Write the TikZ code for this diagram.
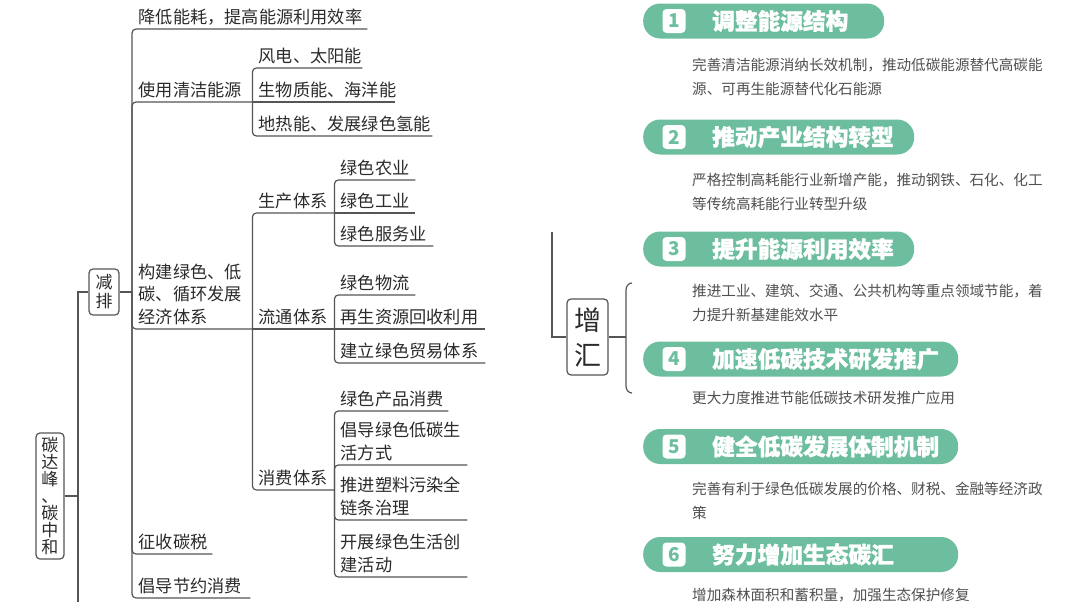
\documentclass[tikz,border=0pt]{standalone}
\usepackage{fontspec}
\setmainfont{Noto Sans CJK SC}
\newfontfamily\heavyfont{Noto Sans CJK SC}[BoldFeatures={FakeBold=1.2}]
\definecolor{ln}{HTML}{555555}
\definecolor{tx}{HTML}{2B2B2B}
\definecolor{pillc}{HTML}{6DBE9E}
\definecolor{descc}{HTML}{505050}
\begin{document}
\begin{tikzpicture}[x=1pt,y=-1pt,
  br/.style={draw=ln, line width=1.2pt, rounded corners=4pt},
  item/.style={anchor=south west, inner xsep=6.5pt, inner ysep=5.5pt, text depth=0pt,
    text width=#1, align=left, text=tx, font=\fontsize{17.2}{22.5}\selectfont},
  two/.style={text depth=22.5pt},
  three/.style={text depth=45pt},
  vbox/.style={draw=ln, line width=1.2pt, rounded corners=4pt, inner sep=0pt, align=center, text=tx},
  pill/.style={fill=pillc, rounded corners=17pt, minimum height=35pt, inner sep=0pt, anchor=west},
  badge/.style={fill=white, rounded corners=4pt, minimum width=23pt, minimum height=24pt, inner sep=0pt,
    text=pillc, font=\fontsize{19}{19}\selectfont\bfseries},
  ttl/.style={anchor=west, inner sep=0pt, text=white, font=\fontsize{22.7}{22.7}\heavyfont\bfseries},
  desc/.style={anchor=north west, inner sep=0pt, align=left, text=descc, font=\fontsize{14.6}{24}\selectfont}
]
\fill[white] (0,0) rectangle (1080,608);
\useasboundingbox (0,0) rectangle (1080,608);

% ---------- left tree ----------
\node[vbox, minimum width=28pt, minimum height=126pt, font=\fontsize{17}{17}\selectfont] (root) at (50,496)
  {碳\\达\\峰\\、\\碳\\中\\和};
\node[vbox, minimum width=30pt, minimum height=46pt, font=\fontsize{17}{19}\selectfont] (jp) at (104,292) {减\\排};
\coordinate (rj) at (78,496);
\coordinate (rbot) at (78,602);
\coordinate (jpj) at (132,292);

\draw[br, rounded corners=0pt] (jp.west) -| (rbot);
\draw[br, rounded corners=0pt] (root.east) -- (rj);
\draw[br, rounded corners=0pt] (jp.east) -- (jpj);

% level 1
\node[item=222pt] (c1) at (132,29) {降低能耗，提高能源利用效率};
\node[item=107pt] (c2) at (132,102) {使用清洁能源};
\node[item=107pt, three] (c3) at (132,329) {构建绿色、低\\碳、循环发展\\经济体系};
\node[item=67pt] (c4) at (132,554) {征收碳税};
\node[item=105pt] (c5) at (132,598) {倡导节约消费};
\foreach \c in {c1,c2,c3,c4,c5} \draw[br] (jpj) |- (\c.south east);

% clean energy
\node[item=97pt] (s1) at (252,68) {风电、太阳能};
\node[item=130pt] (s2) at (252,102) {生物质能、海洋能};
\node[item=167pt] (s3) at (252,136) {地热能、发展绿色氢能};
\draw[br] (c2.south east) |- (s1.south east);
\draw[br] (c2.south east) -- (s2.south east);
\draw[br] (c2.south east) |- (s3.south east);

% systems
\node[item=69pt] (sc) at (252,213) {生产体系};
\node[item=69pt] (lt) at (252,329) {流通体系};
\node[item=69pt] (xf) at (252,490) {消费体系};
\draw[br] (c3.south east) |- (sc.south east);
\draw[br] (c3.south east) -- (lt.south east);
\draw[br] (c3.south east) |- (xf.south east);

% production
\node[item=68pt] (sc1) at (334,180) {绿色农业};
\node[item=68pt] (sc2) at (334,213) {绿色工业};
\node[item=86pt] (sc3) at (334,246) {绿色服务业};
\draw[br] (sc.south east) |- (sc1.south east);
\draw[br] (sc.south east) -- (sc2.south east);
\draw[br] (sc.south east) |- (sc3.south east);

% circulation
\node[item=68pt] (lt1) at (334,295) {绿色物流};
\node[item=138pt] (lt2) at (334,329) {再生资源回收利用};
\node[item=138pt] (lt3) at (334,363) {建立绿色贸易体系};
\draw[br] (lt.south east) |- (lt1.south east);
\draw[br] (lt.south east) -- (lt2.south east);
\draw[br] (lt.south east) |- (lt3.south east);

% consumption
\node[item=101pt] (xf1) at (334,411) {绿色产品消费};
\node[item=120pt, two] (xf2) at (334,465) {倡导绿色低碳生\\活方式};
\node[item=120pt, two] (xf3) at (334,520) {推进塑料污染全\\链条治理};
\node[item=120pt, two] (xf4) at (334,577) {开展绿色生活创\\建活动};
\draw[br] (xf.south east) |- (xf1.south east);
\foreach \c in {xf2,xf3,xf4} \draw[br] (xf.south east) |- (\c.south east);

% ---------- right: 增汇 ----------
\node[vbox, minimum width=41pt, minimum height=76pt, font=\fontsize{27}{35}\selectfont] (zh) at (587.5,337) {增\\汇};
\coordinate (zhtop) at (552,232);
\coordinate (brc) at (626,337);
\coordinate (brt) at (632,283);
\coordinate (brb) at (632,393);
\draw[br, rounded corners=0pt] (zhtop) |- (zh.west);
\draw[br, rounded corners=0pt] (zh.east) -- (brc);
\draw[br, rounded corners=0pt] (brt) to[out=180,in=90] (626,290) -- (626,386) to[out=-90,in=180] (brb);

% pills
\node[pill, minimum width=241pt] (p1) at (643,21) {};
\node[pill, minimum width=271pt] (p2) at (643,137) {};
\node[pill, minimum width=271pt] (p3) at (643,249) {};
\node[pill, minimum width=315pt] (p4) at (643,359) {};
\node[pill, minimum width=315pt] (p5) at (643,446.5) {};
\node[pill, minimum width=315pt] (p6) at (643,554.5) {};

\node[badge] (b1) at (674,21) {1};
\node[badge] (b2) at (674,137) {2};
\node[badge] (b3) at (674,249) {3};
\node[badge] (b4) at (674,359) {4};
\node[badge] (b5) at (674,446.5) {5};
\node[badge] (b6) at (674,554.5) {6};

\node[ttl] (t1) at (712,21) {调整能源结构};
\node[ttl] (t2) at (712,137) {推动产业结构转型};
\node[ttl] (t3) at (712,249) {提升能源利用效率};
\node[ttl] (t4) at (712,359) {加速低碳技术研发推广};
\node[ttl] (t5) at (712,446.5) {健全低碳发展体制机制};
\node[ttl] (t6) at (712,554.5) {努力增加生态碳汇};

\node[desc] (d1) at (692,57.7) {完善清洁能源消纳长效机制，推动低碳能源替代高碳能\\源、可再生能源替代化石能源};
\node[desc] (d2) at (692,172.7) {严格控制高耗能行业新增产能，推动钢铁、石化、化工\\等传统高耗能行业转型升级};
\node[desc] (d3) at (692,283.7) {推进工业、建筑、交通、公共机构等重点领域节能，着\\力提升新基建能效水平};
\node[desc] (d4) at (692,390.7) {更大力度推进节能低碳技术研发推广应用};
\node[desc] (d5) at (692,481.7) {完善有利于绿色低碳发展的价格、财税、金融等经济政\\策};
\node[desc] (d6) at (692,587.7) {增加森林面积和蓄积量，加强生态保护修复};
\end{tikzpicture}
\end{document}
